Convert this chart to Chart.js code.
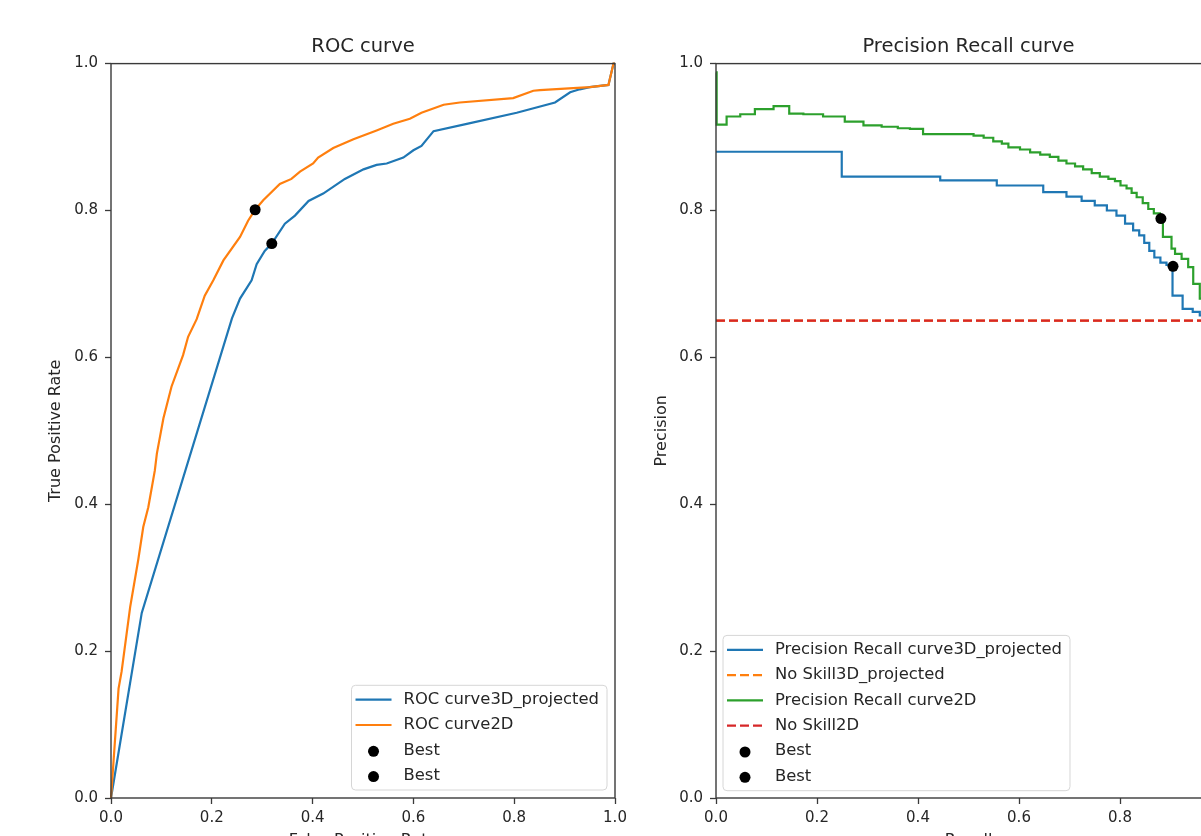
<!DOCTYPE html>
<html><head><meta charset="utf-8">
<script src="https://cdn.jsdelivr.net/npm/chart.js@4.4.0/dist/chart.umd.min.js"></script>
<style>
html,body{margin:0;padding:0;background:#fff;overflow:hidden;}
#wrap{position:relative;width:1201px;height:836px;overflow:hidden;background:#fff;}
#roc{position:absolute;left:0;top:0;}
#pr{position:absolute;left:630px;top:0;}
</style></head><body>
<div id="wrap"><canvas id="roc" width="660" height="870"></canvas><canvas id="pr" width="640" height="870"></canvas></div>
<script>
// ---- tick labels ----
const tickValues = [0, 0.2, 0.4, 0.6, 0.8, 1.0];
const tickLabels = ['0.0', '0.2', '0.4', '0.6', '0.8', '1.0'];

// ---- ROC curve 3D_projected ----
const rocFpr3D = [0, 0.061, 0.24, 0.256, 0.279, 0.289, 0.305, 0.319, 0.345, 0.365, 0.392, 0.421, 0.464, 0.501, 0.527, 0.547, 0.58, 0.6, 0.616, 0.64, 0.706, 0.805, 0.881, 0.911, 0.93, 0.95, 0.987, 0.997, 1.0];
const rocTpr3D = [0, 0.252, 0.653, 0.68, 0.705, 0.727, 0.745, 0.755, 0.782, 0.793, 0.813, 0.823, 0.843, 0.856, 0.862, 0.864, 0.872, 0.882, 0.888, 0.908, 0.918, 0.933, 0.947, 0.961, 0.965, 0.968, 0.971, 1.0, 1.0];
// ---- ROC curve 2D ----
const rocFpr2D = [0, 0.015, 0.021, 0.038, 0.054, 0.064, 0.074, 0.087, 0.091, 0.104, 0.12, 0.143, 0.153, 0.17, 0.186, 0.203, 0.223, 0.256, 0.272, 0.286, 0.302, 0.335, 0.358, 0.375, 0.401, 0.411, 0.441, 0.481, 0.527, 0.56, 0.593, 0.616, 0.66, 0.692, 0.798, 0.838, 0.851, 0.95, 0.987, 0.997, 1.0];
const rocTpr2D = [0, 0.149, 0.172, 0.26, 0.324, 0.369, 0.396, 0.446, 0.469, 0.517, 0.56, 0.603, 0.628, 0.652, 0.684, 0.705, 0.732, 0.764, 0.786, 0.801, 0.814, 0.836, 0.843, 0.853, 0.864, 0.872, 0.885, 0.897, 0.909, 0.918, 0.925, 0.933, 0.944, 0.947, 0.953, 0.963, 0.964, 0.968, 0.971, 1.0, 1.0];
// ---- ROC best points ----
const rocBest3D = [0.319, 0.755];
const rocBest2D = [0.286, 0.801];

// ---- PR curve 3D_projected (horizontal then vertical steps) ----
const prRecall3D = [0, 0.249, 0.444, 0.556, 0.648, 0.694, 0.724, 0.75, 0.774, 0.793, 0.81, 0.826, 0.838, 0.848, 0.858, 0.868, 0.88, 0.892, 0.904, 0.924, 0.944, 0.958, 0.98, 1.0];
const prPrec3D   = [0.88, 0.846, 0.841, 0.834, 0.825, 0.819, 0.813, 0.807, 0.80, 0.793, 0.782, 0.773, 0.766, 0.756, 0.745, 0.736, 0.729, 0.726, 0.684, 0.666, 0.662, 0.657, 0.652, 0.65];
// ---- PR curve 2D ----
const prRecall2D = [0, 0.0013, 0.021, 0.048, 0.077, 0.114, 0.145, 0.173, 0.212, 0.255, 0.292, 0.328, 0.36, 0.384, 0.41, 0.51, 0.53, 0.549, 0.566, 0.579, 0.602, 0.622, 0.642, 0.661, 0.678, 0.694, 0.711, 0.727, 0.744, 0.76, 0.777, 0.79, 0.801, 0.813, 0.823, 0.833, 0.845, 0.856, 0.867, 0.879, 0.885, 0.902, 0.909, 0.922, 0.935, 0.945, 0.958, 0.975, 1.0];
const prPrec2D   = [0.988, 0.917, 0.928, 0.931, 0.938, 0.942, 0.932, 0.931, 0.928, 0.921, 0.916, 0.914, 0.912, 0.911, 0.904, 0.902, 0.899, 0.894, 0.891, 0.886, 0.883, 0.879, 0.876, 0.873, 0.868, 0.864, 0.86, 0.856, 0.851, 0.846, 0.843, 0.84, 0.834, 0.83, 0.824, 0.818, 0.81, 0.802, 0.796, 0.789, 0.764, 0.748, 0.741, 0.734, 0.723, 0.70, 0.68, 0.665, 0.65];
// ---- No skill levels ----
const noSkillRecall = [0, 1];
const noSkill3D = [0.65, 0.65];
const noSkill2D = [0.65, 0.65];
// ---- PR best points ----
const prBest3D = [0.905, 0.724];
const prBest2D = [0.881, 0.789];

const C_BLUE = '#1f77b4', C_ORANGE = '#ff7f0e', C_GREEN = '#2ca02c', C_RED = '#d62728';
const TXT = '#262626', SPINE = '#3a3a3a';

Chart.defaults.font.family = "'DejaVu Sans', sans-serif";
Chart.defaults.color = TXT;

const pts = (xs, ys) => xs.map((x, i) => ({x, y: ys[i]}));

function lineDS(label, xs, ys, color, extra) {
  return Object.assign({label, data: pts(xs, ys), showLine: true, borderColor: color, backgroundColor: color,
    borderWidth: 2.2, pointRadius: 0, fill: false, tension: 0, clip: 6}, extra || {});
}
function bestDS(label, p) {
  return {label, data: [{x: p[0], y: p[1]}], showLine: false, pointRadius: 5.5, pointBackgroundColor: '#000',
    pointBorderColor: '#000', borderColor: '#000', backgroundColor: '#000', pointBorderWidth: 0, clip: 10, isDot: true};
}

function roundRectPath(ctx, x, y, w, h, r) {
  ctx.beginPath();
  ctx.moveTo(x + r, y); ctx.lineTo(x + w - r, y); ctx.arcTo(x + w, y, x + w, y + r, r);
  ctx.lineTo(x + w, y + h - r); ctx.arcTo(x + w, y + h, x + w - r, y + h, r);
  ctx.lineTo(x + r, y + h); ctx.arcTo(x, y + h, x, y + h - r, r);
  ctx.lineTo(x, y + r); ctx.arcTo(x, y, x + r, y, r); ctx.closePath();
}

const framePlugin = {
  id: 'frame',
  afterDatasetsDraw(chart) {
    const ctx = chart.ctx, a = chart.chartArea;
    ctx.save();
    ctx.strokeStyle = SPINE; ctx.lineWidth = 1.4;
    ctx.strokeRect(a.left, a.top, a.right - a.left, a.bottom - a.top);
    ctx.restore();
  }
};

const legendPlugin = {
  id: 'boxLegend',
  afterDraw(chart, args, opts) {
    const ctx = chart.ctx, a = chart.chartArea;
    const items = chart.data.datasets;
    ctx.save();
    ctx.font = "16.4px 'DejaVu Sans', sans-serif";
    const rowH = 25.3, m = 14.4, padL = 4, handle = 36, gap = 12, padR = 8;
    const textW = Math.max(...items.map(d => ctx.measureText(d.label).width));
    const w = padL + handle + gap + textW + padR;
    const h = 2 * m + (items.length - 1) * rowH;
    const x0 = opts.corner === 'right' ? a.right - opts.dx - w : a.left + opts.dx;
    const y0 = a.bottom - opts.dy - h;
    roundRectPath(ctx, x0, y0, w, h, 4);
    ctx.fillStyle = 'rgba(255,255,255,0.85)'; ctx.fill();
    ctx.strokeStyle = '#d6d6d6'; ctx.lineWidth = 1; ctx.stroke();
    items.forEach((d, i) => {
      const cy = y0 + m + i * rowH;
      const hx = x0 + padL;
      if (d.isDot) {
        ctx.beginPath(); ctx.arc(hx + handle / 2, cy + 1, 5.5, 0, Math.PI * 2);
        ctx.fillStyle = '#000'; ctx.fill();
      } else {
        ctx.beginPath(); ctx.setLineDash(d.borderDash || []);
        ctx.moveTo(hx, cy); ctx.lineTo(hx + handle, cy);
        ctx.strokeStyle = d.borderColor; ctx.lineWidth = 2.2; ctx.stroke();
        ctx.setLineDash([]);
      }
      ctx.fillStyle = TXT; ctx.textAlign = 'left'; ctx.textBaseline = 'middle';
      ctx.fillText(d.label, hx + handle + gap, cy);
    });
    ctx.restore();
  }
};

function axes(xTitle, yTitle, yWidth, yTitlePad, xHeight) {
  const common = {
    type: 'linear', min: 0, max: 1,
    afterBuildTicks: s => { s.ticks = tickValues.map(v => ({value: v})); },
    grid: {display: true, drawOnChartArea: false, drawTicks: true, tickLength: 6, tickColor: SPINE, tickWidth: 1.3, color: SPINE},
    border: {display: false}
  };
  return {
    x: Object.assign({}, common, {
      position: 'bottom',
      ticks: {font: {size: 15}, color: TXT, padding: 5, maxRotation: 0, autoSkip: false, callback: (v, i) => tickLabels[i]},
      title: {display: true, text: xTitle, font: {size: 16}, color: TXT, padding: {top: 0, bottom: 19.4}},
      afterFit: s => { s.height = xHeight; }
    }),
    y: Object.assign({}, common, {
      position: 'left',
      ticks: {font: {size: 15}, color: TXT, padding: 7, autoSkip: false, callback: (v, i) => tickLabels[i]},
      title: {display: true, text: yTitle, font: {size: 16}, color: TXT, padding: {top: yTitlePad, bottom: 0}},
      afterFit: s => { s.width = yWidth; }
    })
  };
}

function baseOptions(title, xTitle, yTitle, yWidth, yTitlePad, padRight, legendOpts) {
  return {
    responsive: false, animation: false, devicePixelRatio: 1, events: [],
    layout: {padding: {left: 0, right: padRight, top: 0, bottom: 0}},
    scales: axes(xTitle, yTitle, yWidth, yTitlePad, 870 - 798),
    plugins: {
      legend: {display: false}, tooltip: {enabled: false},
      title: {display: true, text: title, fullSize: false, font: {size: 19.5, weight: 'normal'}, color: TXT, padding: {top: 35.6, bottom: 4.6}},
      boxLegend: legendOpts
    }
  };
}

// ROC chart
new Chart(document.getElementById('roc'), {
  type: 'scatter',
  data: {datasets: [
    lineDS('ROC curve3D_projected', rocFpr3D, rocTpr3D, C_BLUE, {order: 0}),
    lineDS('ROC curve2D', rocFpr2D, rocTpr2D, C_ORANGE, {order: -1}),
    Object.assign(bestDS('Best', rocBest3D), {order: -2}),
    Object.assign(bestDS('Best', rocBest2D), {order: -3})
  ]},
  options: baseOptions('ROC curve', 'False Positive Rate', 'True Positive Rate', 111, 46.4, 660 - 615, {corner: 'right', dx: 8, dy: 8}),
  plugins: [framePlugin, legendPlugin]
});

// PR chart
new Chart(document.getElementById('pr'), {
  type: 'scatter',
  data: {datasets: [
    lineDS('Precision Recall curve3D_projected', prRecall3D, prPrec3D, C_BLUE, {stepped: 'before', order: 0}),
    lineDS('No Skill3D_projected', noSkillRecall, noSkill3D, C_ORANGE, {borderDash: [9, 4], order: -1}),
    lineDS('Precision Recall curve2D', prRecall2D, prPrec2D, C_GREEN, {stepped: 'before', order: -2}),
    lineDS('No Skill2D', noSkillRecall, noSkill2D, C_RED, {borderDash: [9, 4], order: -3}),
    Object.assign(bestDS('Best', prBest3D), {order: -4}),
    Object.assign(bestDS('Best', prBest2D), {order: -5})
  ]},
  options: baseOptions('Precision Recall curve', 'Recall', 'Precision', 86, 22.1, 640 - 591, {corner: 'left', dx: 7, dy: 7.3}),
  plugins: [framePlugin, legendPlugin]
});
</script>
</body></html>
